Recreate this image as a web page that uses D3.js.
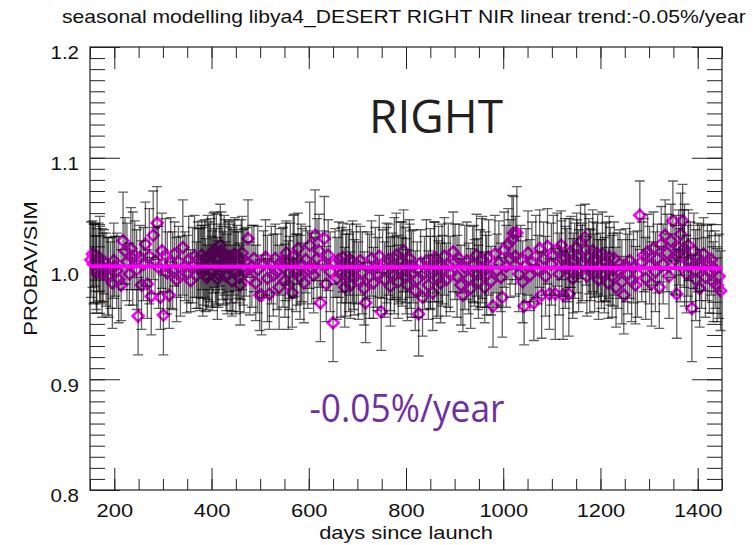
<!DOCTYPE html>
<html>
<head>
<meta charset="utf-8">
<script src="https://cdn.jsdelivr.net/npm/d3@7"></script>
<style>
  body { margin: 0; background: #fff; }
  svg { display: block; }
</style>
</head>
<body>
<svg id="chart" width="753" height="545"></svg>
<script>
// Observation day (days since launch)
const days = [
  152,155,158,161,164,168,171,175,179,183,
  188,192,196,201,205,209,214,218,222,226,
  231,234,238,242,246,249,253,256,260,264,
  268,272,276,280,284,288,291,295,298,301,
  305,309,313,316,320,324,328,332,336,341,
  345,349,353,357,361,365,369,373,378,382,
  386,390,394,398,402,406,410,414,418,422,
  426,430,434,438,442,446,450,455,459,463,
  467,471,475,479,483,487,491,495,499,
  503,507,511,515,519,523,527,531,535,539,
  543,547,551,554,558,562,566,570,574,578,
  582,586,590,594,598,602,606,610,613,617,
  621,624,628,632,636,640,644,650,654,658,
  662,666,670,674,678,682,686,690,694,698,
  702,706,710,714,717,721,725,729,733,737,
  741,745,749,752,756,760,764,768,772,776,
  780,784,788,792,795,799,803,807,811,815,
  819,823,826,830,834,838,842,846,850,855,
  859,863,867,871,875,879,883,887,891,897,
  901,905,909,913,917,921,925,929,933,937,
  941,945,949,953,957,962,966,970,975,979,
  983,987,991,995,998,1002,1006,1010,1014,1018,
  1021,1025,1028,1032,1036,1040,1043,1047,1051,1055,
  1059,1063,1067,1071,1075,1079,1083,1087,1091,1095,
  1099,
  1103,1107,1111,1115,1119,1123,1127,1131,1135,1139,
  1143,1147,1151,1155,1159,1163,1168,1172,1176,1180,
  1184,1188,1192,1196,1200,1204,1208,1212,1216,1220,
  1224,1228,1232,1236,1240,1244,1248,1252,1256,1260,
  1264,1268,1272,1276,1281,1285,1289,1293,1297,
  1301,1305,1309,1313,1317,1321,1325,1329,1333,1337,
  1341,1345,1349,1353,1357,1361,1365,1369,1373,1377,
  1381,1385,1388,1392,1396,1400,1404,1408,1412,1416,
  1420,1424,1428,1432,1436,1440,1444,1447,
  // second acquisition of the same overpass days
  157,163,170,177,186,199,
  372,376,380,384,388,392,396,400,404,408,
  412,416,420,424,428,432,436,440,444,448,
  452,457,461,465,
  552,560,568,576,584,
  668,676,684,692,
  760,768,776,784,792,800,808,
  850,858,866,874,
  940,948,956,964,
  1120,1128,1136,1144,1152,1160,1170,1178,1186,1194,
  1202,1210,1218,1226,
  1356,1364,1372,1380,1396,1404
];

// PROBA-V / simulated reflectance ratio
const ratio = [
  1.008,1.013,1.005,1.012,0.998,1.010,1.003,0.996,1.006,0.999,
  0.992,0.994,0.987,1.002,0.998,0.990,0.985,1.025,1.016,1.006,
  0.995,1.018,1.009,1.012,0.999,0.957,1.010,0.985,1.004,1.022,
  0.986,1.011,0.975,1.030,1.007,1.041,1.001,0.974,1.016,0.958,
  1.012,0.996,0.976,1.005,0.998,1.013,0.990,1.006,0.993,1.019,
  1.002,0.995,1.008,0.989,1.003,1.011,0.994,1.000,1.006,0.997,
  1.009,0.992,1.004,1.013,0.998,1.017,1.008,0.995,1.021,1.005,
  1.012,0.993,1.007,1.001,0.989,1.010,0.996,1.003,0.985,1.014,
  0.998,1.006,1.027,0.991,1.002,1.009,0.987,0.999,0.976,
  0.976,1.004,1.010,0.991,0.977,1.003,0.994,1.009,0.997,0.983,
  1.006,1.001,0.989,1.014,0.985,1.007,0.978,1.012,0.996,1.018,
  0.992,1.003,0.987,1.008,0.999,1.021,1.000,0.994,1.030,1.009,
  1.016,0.969,1.004,1.027,0.986,1.012,0.997,0.951,1.005,0.991,
  1.008,0.995,1.010,0.983,1.002,0.996,0.985,1.006,0.992,1.004,
  0.989,1.007,0.996,0.982,0.969,1.003,0.993,1.009,0.987,1.001,
  0.995,1.011,0.961,1.004,0.990,0.998,1.008,0.984,1.002,0.994,
  1.012,0.988,1.006,0.997,1.016,1.003,0.985,1.009,0.995,1.002,
  0.980,0.990,0.959,1.005,0.974,0.996,1.007,0.985,1.000,0.978,
  1.010,0.992,1.004,0.987,0.999,1.011,0.990,1.003,0.995,1.015,
  1.006,0.993,1.009,0.985,0.976,1.001,1.007,0.991,0.982,1.004,
  0.996,1.012,0.988,1.000,1.008,0.983,0.994,1.010,0.989,0.966,
  1.013,0.998,1.005,0.992,0.974,1.017,1.002,1.022,1.009,1.026,
  1.032,1.011,1.032,0.995,1.008,0.988,0.966,1.003,1.014,0.994,
  1.006,0.969,1.011,0.999,1.018,0.976,1.009,0.993,1.020,0.977,
  1.004,
  1.012,0.977,1.017,0.995,1.021,0.976,1.010,1.003,0.977,1.015,
  0.991,1.007,1.019,0.998,1.024,1.006,1.028,0.993,1.011,1.003,
  1.016,0.996,1.008,0.990,1.001,1.013,0.994,1.006,0.987,1.002,
  0.993,1.009,0.983,0.998,1.004,0.988,0.976,1.003,0.995,1.007,
  0.989,1.001,0.985,0.995,1.048,1.006,1.012,0.991,1.015,
  1.003,0.986,1.018,0.997,1.009,0.983,1.022,1.004,1.030,1.014,
  0.993,1.025,1.043,1.008,0.977,1.019,1.031,1.043,1.012,0.995,
  1.021,1.006,0.964,1.016,0.990,1.010,0.982,1.002,1.013,0.992,
  1.005,0.997,1.008,0.988,0.999,0.985,0.993,0.980,
  1.004,0.996,1.009,1.001,0.993,1.007,
  1.008,0.999,1.012,1.003,0.994,1.010,1.005,0.997,1.014,1.002,
  0.991,1.009,1.016,1.000,1.006,0.995,1.011,1.003,0.998,1.013,
  1.004,0.992,1.008,1.001,
  1.006,0.996,1.011,0.999,1.004,
  1.003,0.994,1.008,0.998,
  1.005,0.995,1.009,0.999,1.007,0.993,1.002,
  0.996,1.006,0.991,1.003,
  1.004,0.995,1.009,0.999,
  1.009,1.001,1.014,0.996,1.011,1.004,1.017,0.998,1.008,1.013,
  0.995,1.006,1.010,0.999,
  1.012,1.003,1.018,1.007,0.998,1.005
];

// One-sigma uncertainty of each ratio
const sigma = [
  .034,.030,.036,.028,.038,.031,.035,.040,.029,.033,
  .036,.030,.041,.027,.034,.039,.032,.044,.030,.035,
  .028,.037,.042,.031,.036,.035,.029,.040,.033,.038,
  .031,.043,.035,.040,.030,.033,.037,.029,.034,.036,
  .033,.037,.030,.041,.035,.029,.038,.032,.036,.043,
  .031,.035,.039,.028,.034,.037,.030,.036,.033,.040,
  .035,.029,.038,.032,.036,.034,.041,.030,.037,.033,
  .036,.031,.035,.039,.032,.034,.037,.030,.036,.033,
  .038,.031,.035,.033,.037,.030,.034,.039,.032,
  .036,.030,.034,.039,.032,.035,.037,.031,.034,.038,
  .030,.036,.033,.029,.040,.034,.031,.037,.035,.032,
  .038,.033,.036,.030,.035,.039,.032,.034,.041,.036,
  .033,.035,.030,.038,.034,.032,.036,.035,.031,.037,
  .034,.039,.031,.036,.033,.035,.030,.037,.034,.036,
  .035,.031,.037,.033,.036,.030,.038,.034,.032,.036,
  .033,.037,.035,.031,.034,.039,.032,.036,.030,.035,
  .038,.033,.036,.031,.037,.034,.032,.035,.039,.033,
  .036,.034,.038,.030,.035,.033,.037,.031,.036,.034,
  .032,.037,.034,.036,.031,.035,.033,.038,.034,.036,
  .034,.037,.031,.036,.033,.038,.035,.032,.036,.034,
  .030,.037,.033,.035,.039,.032,.036,.034,.031,.037,
  .035,.033,.038,.031,.036,.034,.037,.032,.035,.040,
  .033,.036,.042,.034,.031,.037,.035,.033,.038,.032,
  .036,.034,.037,.031,.035,.039,.033,.036,.034,.032,
  .037,
  .036,.041,.033,.037,.031,.040,.035,.033,.038,.032,
  .036,.034,.031,.037,.033,.035,.030,.036,.034,.032,
  .037,.035,.033,.036,.031,.038,.034,.036,.032,.035,
  .037,.033,.036,.034,.031,.038,.035,.033,.036,.034,
  .037,.032,.035,.039,.031,.036,.033,.037,.034,
  .035,.038,.033,.036,.031,.037,.034,.036,.032,.035,
  .038,.033,.036,.031,.040,.034,.037,.033,.046,.035,
  .032,.036,.048,.034,.037,.031,.035,.038,.033,.036,
  .034,.037,.032,.036,.035,.033,.038,.036,
  .036,.033,.038,.031,.035,.034,
  .034,.037,.031,.036,.033,.038,.035,.032,.036,.034,
  .037,.031,.035,.033,.038,.036,.032,.034,.037,.033,
  .035,.031,.036,.034,
  .035,.033,.037,.032,.036,
  .034,.037,.032,.035,
  .036,.033,.037,.031,.035,.034,.038,
  .033,.036,.034,.037,
  .035,.032,.036,.034,
  .034,.037,.031,.036,.033,.035,.032,.038,.034,.036,
  .031,.035,.037,.033,
  .036,.033,.035,.032,.037,.034
];

// Fitted linear trend (-0.05 %/year)
const trendDays = [150, 1450];
const trendRatio = [1.0020, 1.0002];

const xMajorTicks = [200, 400, 600, 800, 1000, 1200, 1400];
const yMajorTicks = [0.8, 0.9, 1.0, 1.1, 1.2];

const titleText = "seasonal modelling libya4_DESERT RIGHT NIR linear trend:-0.05%/year";
const xTitle = "days since launch";
const yTitle = "PROBAV/SIM";
const bandLabel = "RIGHT";
const trendLabel = "-0.05%/year";

const svg = d3.select("#chart");
const plot = { left: 90, right: 722, top: 47, bottom: 490 };

const x = d3.scaleLinear().domain([150, 1450]).range([plot.left, plot.right]);
const y = d3.scaleLinear().domain([0.8, 1.2]).range([plot.bottom, plot.top]);

const axisFont = "'Liberation Sans', Arial, Helvetica, sans-serif";
const xMinor = d3.range(150, 1451, 50);
const yMinor = d3.range(80, 121).map(v => v / 100);

// The axis lettering is set a little wider than the plain face
function widen(sel, k) {
  sel.each(function () {
    const w = this.getComputedTextLength();
    d3.select(this).attr("textLength", w * k).attr("lengthAdjust", "spacingAndGlyphs");
  });
}

// Tick marks on all four sides, pointing inward
function styleAxis(g) {
  g.select(".domain").remove();
  g.selectAll(".tick line").attr("stroke", "#222").attr("stroke-width", 1);
  g.selectAll("text").attr("font-family", axisFont).attr("font-size", 19).attr("fill", "#111");
}

svg.append("g").attr("transform", `translate(0,${plot.bottom})`)
  .call(d3.axisBottom(x).tickValues(xMinor).tickSize(-11).tickFormat(""))
  .call(styleAxis);
svg.append("g").attr("transform", `translate(0,${plot.bottom})`)
  .call(d3.axisBottom(x).tickValues(xMajorTicks).tickSize(-22).tickPadding(14).tickFormat(d3.format("d")))
  .call(styleAxis)
  .call(g => widen(g.selectAll("text"), 1.15));
svg.append("g").attr("transform", `translate(0,${plot.top})`)
  .call(d3.axisTop(x).tickValues(xMinor).tickSize(-11).tickFormat(""))
  .call(styleAxis);
svg.append("g").attr("transform", `translate(0,${plot.top})`)
  .call(d3.axisTop(x).tickValues(xMajorTicks).tickSize(-22).tickFormat(""))
  .call(styleAxis);

svg.append("g").attr("transform", `translate(${plot.left},0)`)
  .call(d3.axisLeft(y).tickValues(yMinor).tickSize(-15).tickFormat(""))
  .call(styleAxis);
svg.append("g").attr("transform", `translate(${plot.left},0)`)
  .call(d3.axisLeft(y).tickValues(yMajorTicks).tickSize(-30).tickPadding(11).tickFormat(d3.format(".1f")))
  .call(styleAxis)
  .call(g => g.selectAll("text").attr("dy", "0.62em"))
  .call(g => widen(g.selectAll("text"), 1.08));
svg.append("g").attr("transform", `translate(${plot.right},0)`)
  .call(d3.axisRight(y).tickValues(yMinor).tickSize(-15).tickFormat(""))
  .call(styleAxis);
svg.append("g").attr("transform", `translate(${plot.right},0)`)
  .call(d3.axisRight(y).tickValues(yMajorTicks).tickSize(-30).tickFormat(""))
  .call(styleAxis);

// Plot frame
svg.append("rect")
  .attr("x", plot.left).attr("y", plot.top)
  .attr("width", plot.right - plot.left).attr("height", plot.bottom - plot.top)
  .attr("fill", "none").attr("stroke", "#222").attr("stroke-width", 1.2);

const obs = days.map((d, i) => ({ day: d, r: ratio[i], s: sigma[i] }));

// Open diamonds for each observation
const diamond = d3.symbol().type(d3.symbolSquare).size(60);
svg.append("g").selectAll("path").data(obs).join("path")
  .attr("d", diamond)
  .attr("transform", d => `translate(${x(d.day)},${y(d.r)}) rotate(45)`)
  .attr("fill", "none")
  .attr("stroke", "#ff00ff")
  .attr("stroke-width", 2.6);

// Error bars drawn over the diamonds
const eb = svg.append("g")
  .attr("stroke", "#000").attr("stroke-opacity", 0.62).attr("stroke-width", 1.3).attr("fill", "none");
eb.selectAll("path").data(obs).join("path")
  .attr("d", d => {
    const cx = x(d.day), y0 = y(d.r - d.s), y1 = y(d.r + d.s);
    return `M${cx},${y0}V${y1}M${cx - 5},${y0}H${cx + 5}M${cx - 5},${y1}H${cx + 5}`;
  });

// Linear trend line
const trendLine = d3.line().x(d => x(d[0])).y(d => y(d[1]));
svg.append("path")
  .datum(trendDays.map((d, i) => [d, trendRatio[i]]))
  .attr("d", trendLine)
  .attr("stroke", "#ff00ff").attr("stroke-width", 4).attr("fill", "none");

// Title, stretched horizontally like the axis lettering
svg.append("text")
  .attr("transform", "translate(62,23) scale(1.113,1)")
  .attr("x", 0).attr("y", 0).attr("text-anchor", "start")
  .attr("font-family", axisFont).attr("font-size", 19).attr("fill", "#111")
  .text(titleText);

svg.append("text")
  .attr("x", (plot.left + plot.right) / 2).attr("y", 539).attr("text-anchor", "middle")
  .attr("font-family", axisFont).attr("font-size", 19).attr("fill", "#111")
  .text(xTitle)
  .call(t => widen(t, 1.15));

svg.append("text")
  .attr("transform", `translate(37,${(plot.top + plot.bottom) / 2}) rotate(-90)`)
  .attr("text-anchor", "middle")
  .attr("font-family", axisFont).attr("font-size", 19).attr("fill", "#111")
  .text(yTitle)
  .call(t => widen(t, 1.15));

svg.append("text")
  .attr("x", 436).attr("y", 133).attr("text-anchor", "middle")
  .attr("font-family", "'Open Sans', 'Noto Sans', sans-serif").attr("font-size", 46)
  .attr("fill", "#231f20")
  .text(bandLabel);

svg.append("text")
  .attr("x", 407).attr("y", 422).attr("text-anchor", "middle")
  .attr("font-family", "'Open Sans', 'Noto Sans', sans-serif").attr("font-size", 38)
  .attr("fill", "#7030a0")
  .attr("textLength", 195).attr("lengthAdjust", "spacingAndGlyphs")
  .text(trendLabel);
</script>
</body>
</html>
